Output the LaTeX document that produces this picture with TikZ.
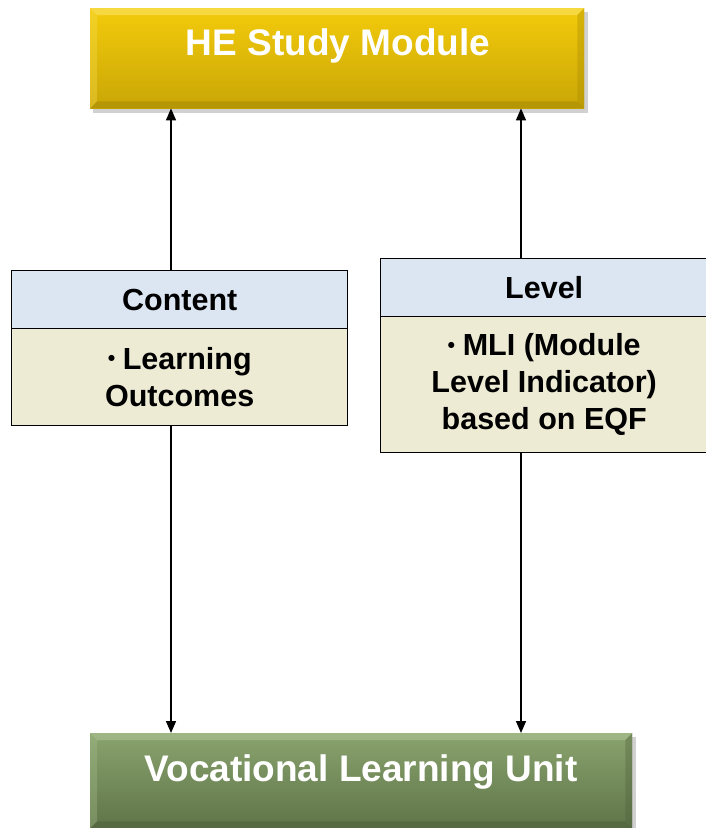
\documentclass[tikz,border=0pt]{standalone}
\usepackage{fontspec}
\setmainfont{Liberation Sans}
\usetikzlibrary{arrows.meta}

\definecolor{goldtop}{HTML}{F3CB0B}
\definecolor{goldbot}{HTML}{C9A606}
\definecolor{goldlite}{HTML}{F8DE52}
\definecolor{golddark}{HTML}{A58904}
\definecolor{greentop}{HTML}{89A36E}
\definecolor{greenbot}{HTML}{5F7448}
\definecolor{greenlite}{HTML}{A6BD8C}
\definecolor{greendark}{HTML}{4E5F3B}
\definecolor{headblue}{HTML}{DCE6F2}
\definecolor{bodytan}{HTML}{EEEBD5}

\tikzset{
  bigbox/.style={anchor=north west, inner sep=0pt, draw=none},
  titletext/.style={text=white, font=\fontsize{37}{40}\selectfont\bfseries, anchor=base},
  cardhead/.style={anchor=north west, inner sep=0pt, draw=black, line width=1.4pt,
                   fill=headblue, font=\fontsize{30.5}{33}\selectfont\bfseries},
  cardbody/.style={anchor=north west, inner sep=0pt, draw=black, line width=1.4pt,
                   fill=bodytan, align=center, font=\fontsize{30.5}{37}\selectfont\bfseries},
  arr/.style={line width=1.4pt, -{Triangle[length=12pt,width=10pt]}},
}

% small list bullet
\newcommand{\smallbul}{\raisebox{0.12em}{\scalebox{0.7}{\textbullet}}\hspace{0.25em}}

% bevelled, shaded slab: #1 node, #2 light edge, #3 dark edge
\newcommand{\bevelslab}[3]{%
  \fill[#2, opacity=0.75] (#1.north west) -- (#1.north east)
      -- ([xshift=-7pt,yshift=-7pt]#1.north east) -- ([xshift=7pt,yshift=-7pt]#1.north west) -- cycle;
  \fill[#3, opacity=0.55] (#1.south west) -- (#1.south east)
      -- ([xshift=-7pt,yshift=7pt]#1.south east) -- ([xshift=7pt,yshift=7pt]#1.south west) -- cycle;
  \fill[#2, opacity=0.35] (#1.north west) -- ([xshift=7pt,yshift=-7pt]#1.north west)
      -- ([xshift=7pt,yshift=7pt]#1.south west) -- (#1.south west) -- cycle;
  \fill[#3, opacity=0.35] (#1.north east) -- ([xshift=-7pt,yshift=-7pt]#1.north east)
      -- ([xshift=-7pt,yshift=7pt]#1.south east) -- (#1.south east) -- cycle;
}

\begin{document}
\begin{tikzpicture}[x=1pt, y=-1pt]
  \useasboundingbox (0,0) rectangle (706,828);

  % drop shadows
  \fill[black, opacity=0.18] (93,12) rectangle (588,113);
  \fill[black, opacity=0.18] (93,737) rectangle (636,830);

  % top and bottom slabs
  \node[bigbox, minimum width=494pt, minimum height=100pt,
        top color=goldtop, bottom color=goldbot] (he) at (90,8) {};
  \bevelslab{he}{goldlite}{golddark}
  \node[titletext] (hetext) at (338,55) {HE Study Module};

  \node[bigbox, minimum width=542pt, minimum height=95pt,
        top color=greentop, bottom color=greenbot] (vlu) at (90,733) {};
  \bevelslab{vlu}{greenlite}{greendark}
  \node[titletext] (vlutext) at (361,781) {Vocational Learning Unit};

  % content card
  \node[cardhead, minimum width=336pt, minimum height=58pt] (conthead) at (11,270) {Content};
  \node[cardbody, minimum width=336pt, minimum height=97pt] (contbody) at (11,328)
       {\smallbul Learning\\Outcomes};

  % level card
  \node[cardhead, minimum width=327pt, minimum height=58pt] (levhead) at (380,258) {Level};
  \node[cardbody, minimum width=327pt, minimum height=136pt] (levbody) at (380,316)
       {\smallbul MLI (Module\\Level Indicator)\\based on EQF};

  % connector columns
  \coordinate (lx) at (171,0);
  \coordinate (rx) at (521,0);

  \draw[arr] (lx |- conthead.north) -- (lx |- he.south);
  \draw[arr] (rx |- levhead.north) -- (rx |- he.south);
  \draw[arr] (lx |- contbody.south) -- (lx |- vlu.north);
  \draw[arr] (rx |- levbody.south) -- (rx |- vlu.north);
\end{tikzpicture}
\end{document}
